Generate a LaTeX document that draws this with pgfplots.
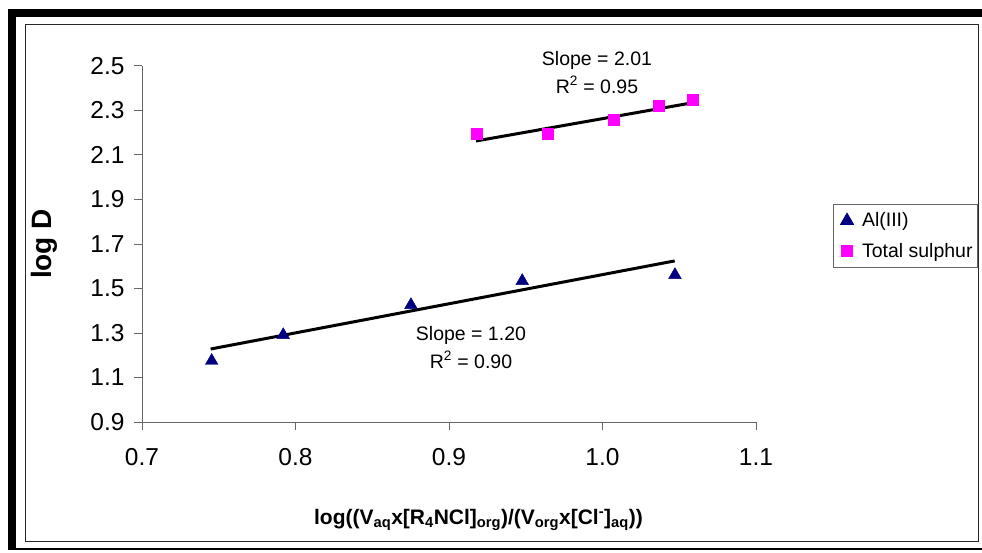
\documentclass[border=0pt]{standalone}
\usepackage{fontspec}
\setmainfont{Liberation Sans}
\usepackage{pgfplots}
\pgfplotsset{compat=1.18}
\definecolor{navyA}{RGB}{0,0,128}
\definecolor{magA}{RGB}{255,0,255}
\begin{document}
\begin{tikzpicture}
\useasboundingbox (0,0) rectangle (982pt,552pt);
\fill[white] (0,0) rectangle (982pt,552pt);
% outer black frame
\fill[black] (8pt,535pt) rectangle (982pt,543pt);
\fill[black] (8pt,2pt) rectangle (16pt,543pt);
\fill[black] (8pt,2pt) rectangle (982pt,4.5pt);
% inner chart border
\draw[black!85, line width=1pt] (25pt,10.3pt) rectangle (978.5pt,527pt);
\begin{axis}[
  at={(142pt,130pt)}, anchor=south west,
  scale only axis, width=614pt, height=356pt,
  xmin=0.7, xmax=1.1, ymin=0.9, ymax=2.5,
  axis x line=bottom, axis y line=left,
  axis line style={-, black!60, line width=1pt},
  xtick={0.7,0.8,0.9,1.0,1.1},
  ytick={0.9,1.1,1.3,1.5,1.7,1.9,2.1,2.3,2.5},
  tick align=outside, major tick length=8pt,
  tick style={black!60, line width=1pt},
  minor tick num=0,
  tick label style={font=\fontsize{24.5}{28}\selectfont},
  xticklabel style={yshift=-15pt, /pgf/number format/.cd, fixed, fixed zerofill, precision=1, assume math mode=true},
  yticklabel style={xshift=-6pt, /pgf/number format/.cd, fixed, fixed zerofill, precision=1, assume math mode=true},
  clip=false,
  xlabel={log((V\textsubscript{aq}x[R\textsubscript{4}NCl]\textsubscript{org})/(V\textsubscript{org}x[Cl\textsuperscript{-}]\textsubscript{aq}))},
  xlabel style={at={(axis description cs:0.548,-0.2874)}, anchor=base, font=\fontsize{21}{25}\selectfont\bfseries},
  ylabel={log D},
  ylabel style={at={(axis description cs:-0.1596,0.5)}, anchor=center, font=\fontsize{28}{32}\selectfont\bfseries},
  legend style={at={(1.125,0.6115)}, anchor=north west, draw=black!60, line width=1pt,
    font=\fontsize{19.5}{23}\selectfont, inner xsep=3.3pt, inner ysep=6pt, row sep=11pt},
  legend image code/.code={\path[draw=none, fill=none] (0pt,-5pt) rectangle (23.5pt,5pt);
    \draw[mark repeat=2, mark phase=2, #1] plot coordinates {(0pt,0pt) (10.5pt,0pt) (23.5pt,0pt)};},
  legend cell align=left,
]
\addplot[only marks, mark=triangle*, mark size=7.3pt, mark options={draw=navyA, fill=navyA}]
  coordinates {(0.7454,1.175) (0.7920,1.291) (0.8752,1.426) (0.9477,1.534) (1.0472,1.561)};
\addlegendentry{Al(III)}
\addplot[only marks, mark=square*, mark size=5.5pt, mark options={draw=magA, fill=magA}]
  coordinates {(0.9178,2.194) (0.9643,2.194) (1.0070,2.260) (1.0368,2.322) (1.0588,2.347)};
\addlegendentry{Total sulphur}
\addplot[black, line width=3pt, forget plot] coordinates {(0.7447,1.228) (1.047,1.624)};
\addplot[black, line width=3pt, forget plot] coordinates {(0.9176,2.163) (1.0588,2.335)};
\node[anchor=base, font=\fontsize{19.5}{23}\selectfont] at (axis cs:0.9964,2.500) {Slope = 2.01};
\node[anchor=base, font=\fontsize{19.5}{23}\selectfont] at (axis cs:0.9964,2.377) {R\textsuperscript{2} = 0.95};
\node[anchor=base, font=\fontsize{19.5}{23}\selectfont] at (axis cs:0.9143,1.2685) {Slope = 1.20};
\node[anchor=base, font=\fontsize{19.5}{23}\selectfont] at (axis cs:0.9143,1.1413) {R\textsuperscript{2} = 0.90};
\end{axis}
\end{tikzpicture}
\end{document}
